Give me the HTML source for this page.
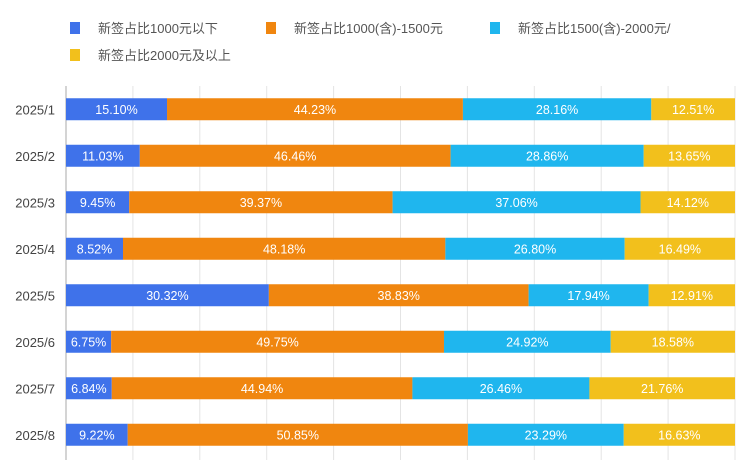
<!DOCTYPE html>
<html><head><meta charset="utf-8"><style>
body{margin:0;background:#fff;}
svg text{font-family:"Liberation Sans","Noto Sans CJK SC",sans-serif;}
</style></head><body>
<svg width="750" height="465" viewBox="0 0 750 465">
<g id="legend"></g>
<g id="grid"></g>
<g id="bars"></g>
<g id="ylabels"></g>
</svg>
<script>
const categories=["2025/1","2025/2","2025/3","2025/4","2025/5","2025/6","2025/7","2025/8"];
const seriesNames=["新签占比1000元以下","新签占比1000(含)-1500元","新签占比1500(含)-2000元/","新签占比2000元及以上"];
const s1=[15.10,11.03,9.45,8.52,30.32,6.75,6.84,9.22];
const s2=[44.23,46.46,39.37,48.18,38.83,49.75,44.94,50.85];
const s3=[28.16,28.86,37.06,26.80,17.94,24.92,26.46,23.29];
const s4=[12.51,13.65,14.12,16.49,12.91,18.58,21.76,16.63];
const series=[s1,s2,s3,s4];
const colors=["#3f72ea","#f0860f","#1fb6ee","#f2c01c"];
const NS="http://www.w3.org/2000/svg";
function mk(t,a,p){const e=document.createElementNS(NS,t);for(const k in a)e.setAttribute(k,a[k]);p.appendChild(e);return e;}
const x0=66,x1=735,yTop=86,yBot=458;
const band=(yBot-yTop)/categories.length;
const xs=v=>x0+(x1-x0)*v/100;
const yc=i=>yTop+band*(i+0.5);
// legend
const lg=document.getElementById('legend');
const lpos=[[70,28],[266,28],[490,28],[70,55]];
seriesNames.forEach((n,i)=>{
 const r=mk('rect',{x:lpos[i][0],y:lpos[i][1]-6,width:10,height:12,fill:colors[i]},lg);
 
 
 const t=mk('text',{x:lpos[i][0]+28,y:lpos[i][1]+5,'font-size':13,fill:'#555'},lg);
 t.textContent=n;
 
 
});
// grid
const g=document.getElementById('grid');
for(let k=0;k<=10;k++){
 const l=mk('line',{x1:xs(k*10),x2:xs(k*10),y1:yTop,y2:yBot+2,stroke:k===0?'#aaa':'#e4e4e4','stroke-width':1},g);
 
 
}
// bars
const bg=document.getElementById('bars');
const yl=document.getElementById('ylabels');
categories.forEach((c,i)=>{
 const tot=series.reduce((a,s)=>a+s[i],0);
 let acc=0;const y=yc(i);
 series.forEach((s,j)=>{
  const v=s[i]/tot*100;
  const r=mk('rect',{x:xs(acc),y:y-11,width:xs(acc+v)-xs(acc),height:22,fill:colors[j]},bg);
  
  
  const t=mk('text',{x:(xs(acc)+xs(acc+v))/2,y:y+4.5,'font-size':12.5,fill:'#fff','text-anchor':'middle'},bg);
  t.textContent=s[i].toFixed(2)+'%';
  
  
  acc+=v;
 });
 const t=mk('text',{x:55,y:y+5,'font-size':13,fill:'#444','text-anchor':'end'},yl);
 t.textContent=c;
 
 
});
</script>
</body></html>
